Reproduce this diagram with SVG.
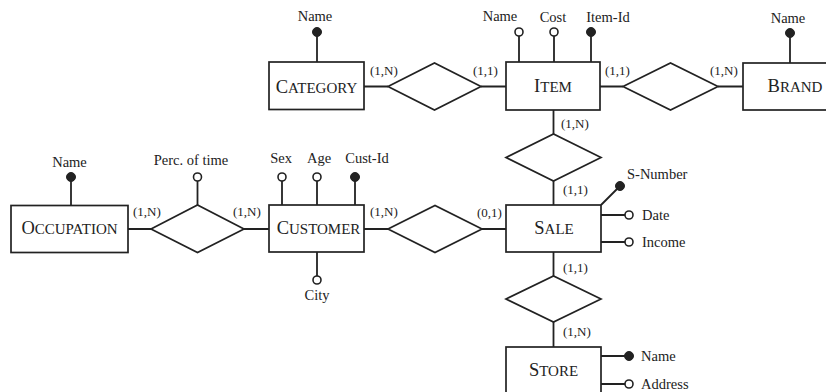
<svg xmlns="http://www.w3.org/2000/svg" width="826" height="392" viewBox="0 0 826 392">
  <style>
    .box { fill: #fff; stroke: #222; stroke-width: 1.7; }
    .rel { fill: #fff; stroke: #222; stroke-width: 1.7; }
    .ln { stroke: #222; stroke-width: 1.8; fill: none; }
    .key { fill: #222; stroke: #222; stroke-width: 1; }
    .opt { fill: #fff; stroke: #222; stroke-width: 1.6; }
    text { font-family: "Liberation Serif", "Times New Roman", serif; fill: #222; }
    .ent { font-size: 15px; text-anchor: middle; }
    .cap { font-size: 18.5px; }
    .attr { font-size: 14.5px; }
    .mid { text-anchor: middle; }
    .card { font-size: 13px; }
  </style>

  <rect width="826" height="392" fill="#fff"/>

  <!-- relationship connectors and cardinalities -->
  <g id="connectors">
    <path class="ln" d="M364 86.5H388 M481 86.5H506 M600 86.5H623 M718 86.5H743"/>
    <path class="ln" d="M553.5 110V134 M553.5 181V205 M553.5 252V276 M553.5 322V347"/>
    <path class="ln" d="M128 229H151 M244 229H269 M364 229H388 M482 229H506"/>
    <g class="card">
      <text x="370" y="75">(1,N)</text>
      <text x="473" y="75">(1,1)</text>
      <text x="605" y="75">(1,1)</text>
      <text x="710" y="75">(1,N)</text>
      <text x="561" y="128">(1,N)</text>
      <text x="563" y="194">(1,1)</text>
      <text x="133" y="216">(1,N)</text>
      <text x="233" y="216">(1,N)</text>
      <text x="370" y="216">(1,N)</text>
      <text x="477" y="217">(0,1)</text>
      <text x="563" y="272">(1,1)</text>
      <text x="563" y="336">(1,N)</text>
    </g>
  </g>

  <!-- entities with their attributes -->
  <g id="category">
    <path class="ln" d="M317 62V32"/>
    <circle class="key" cx="317" cy="32" r="4.5"/>
    <text class="attr mid" x="315" y="21">Name</text>
    <rect class="box" x="269" y="62" width="95" height="47.5"/>
    <text class="ent" x="316.5" y="93"><tspan class="cap">C</tspan>ATEGORY</text>
  </g>

  <g id="item">
    <path class="ln" d="M519 62V32 M554 62V32 M591 62V32"/>
    <circle class="opt" cx="519" cy="32" r="4"/>
    <circle class="opt" cx="554" cy="32" r="4"/>
    <circle class="key" cx="591" cy="32" r="4.5"/>
    <text class="attr mid" x="500" y="21">Name</text>
    <text class="attr mid" x="553" y="21.5">Cost</text>
    <text class="attr mid" x="608" y="21.5">Item-Id</text>
    <rect class="box" x="506" y="62" width="94" height="48"/>
    <text class="ent" x="553" y="92"><tspan class="cap">I</tspan>TEM</text>
  </g>

  <g id="brand">
    <path class="ln" d="M790 63V33"/>
    <circle class="key" cx="790" cy="33" r="4.5"/>
    <text class="attr mid" x="788" y="23">Name</text>
    <rect class="box" x="743" y="63" width="104" height="47"/>
    <text class="ent" x="795" y="92"><tspan class="cap">B</tspan>RAND</text>
  </g>

  <g id="occupation">
    <path class="ln" d="M71 206V177"/>
    <circle class="key" cx="71" cy="177" r="4.5"/>
    <text class="attr mid" x="69.5" y="167">Name</text>
    <rect class="box" x="11" y="205.5" width="117" height="47"/>
    <text class="ent" x="69.5" y="234"><tspan class="cap">O</tspan>CCUPATION</text>
  </g>

  <g id="customer">
    <path class="ln" d="M282 205V177 M317 205V177 M355 205V177 M317 252V280"/>
    <circle class="opt" cx="282" cy="177" r="4"/>
    <circle class="opt" cx="317" cy="177" r="4"/>
    <circle class="key" cx="355" cy="177" r="4.5"/>
    <circle class="opt" cx="317" cy="280" r="4"/>
    <text class="attr mid" x="281" y="163">Sex</text>
    <text class="attr mid" x="319" y="163">Age</text>
    <text class="attr mid" x="367" y="163">Cust-Id</text>
    <text class="attr mid" x="317" y="300">City</text>
    <rect class="box" x="269" y="205" width="95" height="47"/>
    <text class="ent" x="318.5" y="234"><tspan class="cap">C</tspan>USTOMER</text>
  </g>

  <g id="sale">
    <path class="ln" d="M601 205L620 186 M601 215H625 M601 242H625"/>
    <circle class="key" cx="620" cy="186" r="4.5"/>
    <circle class="opt" cx="629" cy="215" r="4"/>
    <circle class="opt" cx="629" cy="242" r="4"/>
    <text class="attr" x="627" y="179">S-Number</text>
    <text class="attr" x="642" y="219.5">Date</text>
    <text class="attr" x="642" y="246.5">Income</text>
    <rect class="box" x="506" y="205" width="95" height="47"/>
    <text class="ent" x="554" y="234"><tspan class="cap">S</tspan>ALE</text>
  </g>

  <g id="store">
    <path class="ln" d="M601 356H625 M601 384H625"/>
    <circle class="key" cx="629" cy="356" r="4.5"/>
    <circle class="opt" cx="629" cy="384" r="4"/>
    <text class="attr" x="641" y="360.5">Name</text>
    <text class="attr" x="641" y="388.5">Address</text>
    <rect class="box" x="506" y="347" width="95" height="48"/>
    <text class="ent" x="553.5" y="376"><tspan class="cap">S</tspan>TORE</text>
  </g>

  <!-- relationships -->
  <g id="rel-category-item">
    <polygon class="rel" points="388,86.5 434.5,63 481,86.5 434.5,110"/>
  </g>
  <g id="rel-item-brand">
    <polygon class="rel" points="623,86.5 670.5,63 718,86.5 670.5,110"/>
  </g>
  <g id="rel-item-sale">
    <polygon class="rel" points="506,157.5 553.5,134 601,157.5 553.5,181"/>
  </g>
  <g id="rel-occupation-customer">
    <path class="ln" d="M197.5 205V177"/>
    <polygon class="rel" points="151,229 197.5,205 244,229 197.5,252.5"/>
    <circle class="opt" cx="197.5" cy="177" r="4"/>
    <text class="attr mid" x="191" y="165">Perc. of time</text>
  </g>
  <g id="rel-customer-sale">
    <polygon class="rel" points="388,229 435,205.5 482,229 435,252.5"/>
  </g>
  <g id="rel-sale-store">
    <polygon class="rel" points="506,299 553.5,276 601,299 553.5,322"/>
  </g>
</svg>
